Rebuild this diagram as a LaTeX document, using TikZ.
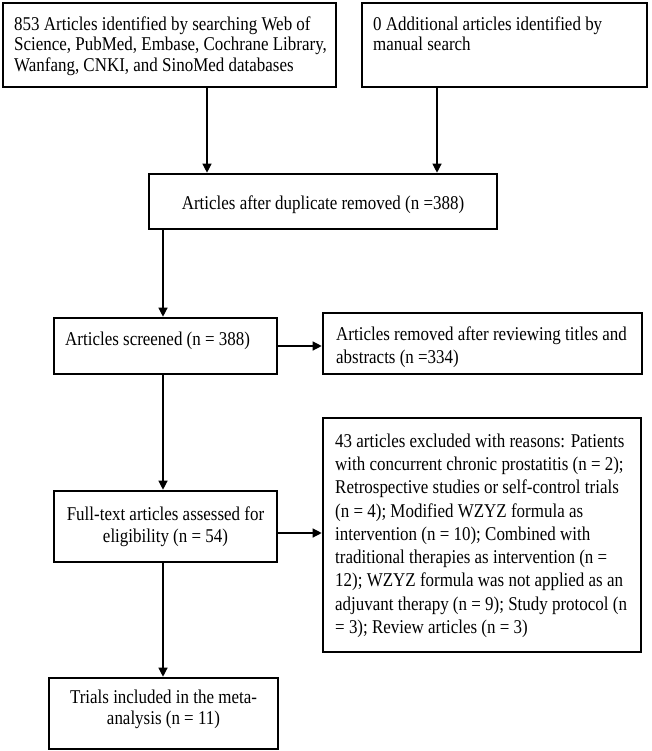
\documentclass[tikz,border=0pt]{standalone}
\usepackage{fontspec}
\setmainfont{Liberation Serif}[FakeStretch=0.87]
\usetikzlibrary{arrows.meta}
\begin{document}
\begin{tikzpicture}[x=1pt,y=-1pt,
  box/.style={draw=black, line width=2.6pt, inner sep=0pt},
  txt/.style={inner sep=0pt, align=left, anchor=north west},
  ctxt/.style={inner sep=0pt, align=center, anchor=north},
  arr/.style={draw=black, line width=1.2pt, -{Triangle[length=9pt,width=9pt]}}]
\useasboundingbox (0,0) rectangle (652,751);
\fill[white] (0,0) rectangle (652,751);
% boxes
\node[box, minimum width=333pt, minimum height=84pt] (b1) at (169.5,45) {};
\node[box, minimum width=285pt, minimum height=84pt] (b2) at (504.5,45) {};
\node[box, minimum width=348pt, minimum height=55pt] (b3) at (323,201.5) {};
\node[box, minimum width=223pt, minimum height=56pt] (b4) at (165.5,346) {};
\node[box, minimum width=319pt, minimum height=61pt] (b5) at (482.5,343.5) {};
\node[box, minimum width=223pt, minimum height=71pt] (b6) at (165.5,526.5) {};
\node[box, minimum width=318pt, minimum height=234pt] (b7) at (482,535) {};
\node[box, minimum width=229pt, minimum height=71pt] (b8) at (163.5,713.5) {};
% texts
\node[txt, font=\fontsize{19.5}{20.5}\selectfont] (t1) at (14,16.4) {853 Articles identified by searching Web of\\Science, PubMed, Embase, Cochrane Library,\\Wanfang, CNKI, and SinoMed databases};
\node[txt, font=\fontsize{19.5}{20.5}\selectfont] (t2) at (373,16.4) {0 Additional articles identified by\\manual search};
\node[ctxt, font=\fontsize{19.5}{20.5}\selectfont] (t3) at (323,195.4) {Articles after duplicate removed (n =388)};
\node[txt, font=\fontsize{19.5}{20.5}\selectfont] (t4) at (65,331.4) {Articles screened (n = 388)};
\node[txt, font=\fontsize{19.5}{23}\selectfont] (t5) at (336,326.4) {Articles removed after reviewing titles and\\abstracts (n =334)};
\node[ctxt, font=\fontsize{19.5}{22}\selectfont] (t6) at (165.5,506.4) {Full-text articles assessed for\\eligibility (n = 54)};
\node[txt, font=\fontsize{19.5}{23.3}\selectfont] (t7) at (335,433.4) {43 articles excluded with reasons: Patients\\with concurrent chronic prostatitis (n = 2);\\Retrospective studies or self-control trials\\(n = 4); Modified WZYZ formula as\\intervention (n = 10); Combined with\\traditional therapies as intervention (n =\\12); WZYZ formula was not applied as an\\adjuvant therapy (n = 9); Study protocol (n\\= 3); Review articles (n = 3)};
\node[ctxt, font=\fontsize{19.5}{21}\selectfont] (t8) at (163.5,689.4) {Trials included in the meta-\\analysis (n = 11)};
% connector columns
\coordinate (xa) at (207,0);
\coordinate (xb) at (437,0);
\coordinate (xc) at (163,0);
\coordinate (yb6) at (0,533);
\draw[arr] (b1.south -| xa) -- (b3.north -| xa);
\draw[arr] (b2.south -| xb) -- (b3.north -| xb);
\draw[arr] (b3.south -| xc) -- (b4.north -| xc);
\draw[arr] (b4.east) -- (b4.east -| b5.west);
\draw[arr] (b4.south -| xc) -- (b6.north -| xc);
\draw[arr] (b6.east |- yb6) -- (b7.west |- yb6);
\draw[arr] (b6.south -| xc) -- (b8.north -| xc);
\end{tikzpicture}
\end{document}
